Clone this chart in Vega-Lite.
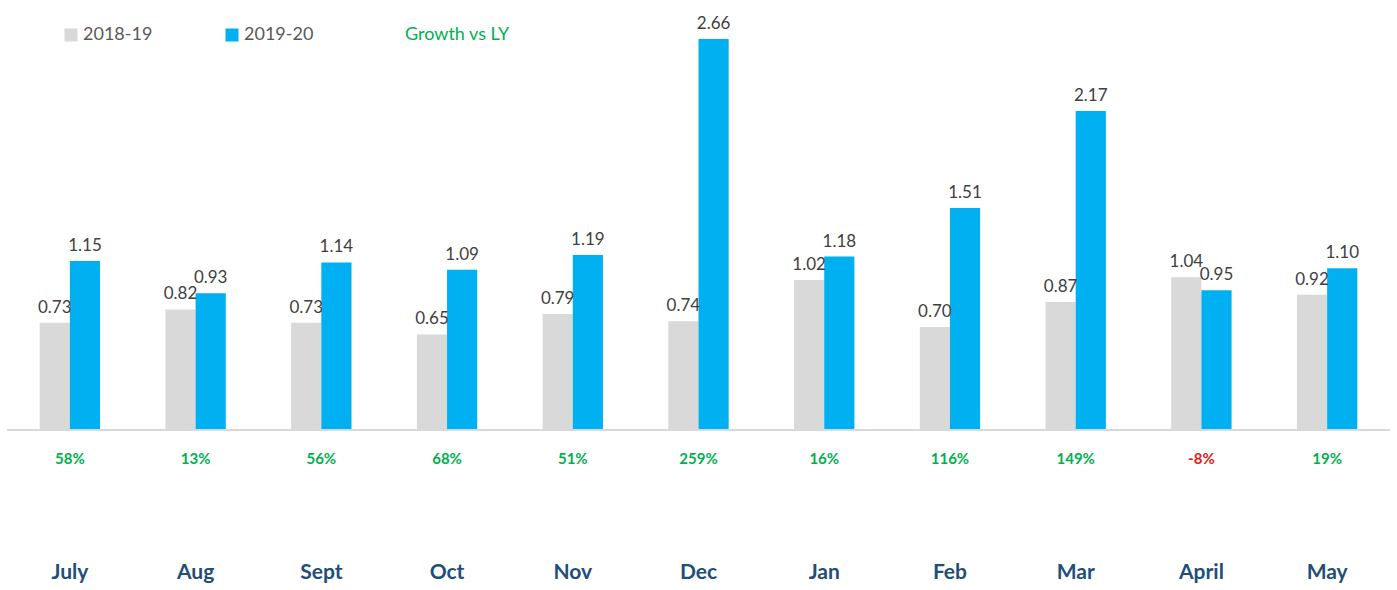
{
  "$schema": "https://vega.github.io/schema/vega-lite/v6.json",
  "width": 1383,
  "height": 545,
  "autosize": "none",
  "padding": {"left": 7, "top": 0, "right": 7, "bottom": 45},
  "background": "white",
  "config": {"view": {"stroke": null}, "font": "Lato"},
  "datasets": {
    "bars": [
      {"month": "July", "series": "2018-19", "value": 0.73},
      {"month": "July", "series": "2019-20", "value": 1.15},
      {"month": "Aug", "series": "2018-19", "value": 0.82},
      {"month": "Aug", "series": "2019-20", "value": 0.93},
      {"month": "Sept", "series": "2018-19", "value": 0.73},
      {"month": "Sept", "series": "2019-20", "value": 1.14},
      {"month": "Oct", "series": "2018-19", "value": 0.65},
      {"month": "Oct", "series": "2019-20", "value": 1.09},
      {"month": "Nov", "series": "2018-19", "value": 0.79},
      {"month": "Nov", "series": "2019-20", "value": 1.19},
      {"month": "Dec", "series": "2018-19", "value": 0.74},
      {"month": "Dec", "series": "2019-20", "value": 2.66},
      {"month": "Jan", "series": "2018-19", "value": 1.02},
      {"month": "Jan", "series": "2019-20", "value": 1.18},
      {"month": "Feb", "series": "2018-19", "value": 0.70},
      {"month": "Feb", "series": "2019-20", "value": 1.51},
      {"month": "Mar", "series": "2018-19", "value": 0.87},
      {"month": "Mar", "series": "2019-20", "value": 2.17},
      {"month": "April", "series": "2018-19", "value": 1.04},
      {"month": "April", "series": "2019-20", "value": 0.95},
      {"month": "May", "series": "2018-19", "value": 0.92},
      {"month": "May", "series": "2019-20", "value": 1.10}
    ],
    "growth": [
      {"month": "July", "growth": 58, "label": "58%"},
      {"month": "Aug", "growth": 13, "label": "13%"},
      {"month": "Sept", "growth": 56, "label": "56%"},
      {"month": "Oct", "growth": 68, "label": "68%"},
      {"month": "Nov", "growth": 51, "label": "51%"},
      {"month": "Dec", "growth": 259, "label": "259%"},
      {"month": "Jan", "growth": 16, "label": "16%"},
      {"month": "Feb", "growth": 116, "label": "116%"},
      {"month": "Mar", "growth": 149, "label": "149%"},
      {"month": "April", "growth": -8, "label": "-8%"},
      {"month": "May", "growth": 19, "label": "19%"}
    ]
  },
  "encoding": {
    "x": {
      "field": "month",
      "type": "nominal",
      "sort": ["July", "Aug", "Sept", "Oct", "Nov", "Dec", "Jan", "Feb", "Mar", "April", "May"],
      "scale": {"paddingInner": 0.52, "paddingOuter": 0.26},
      "axis": {
        "title": null,
        "domain": false,
        "ticks": false,
        "labelAngle": 0,
        "labelPadding": 16,
        "labelFontSize": 21,
        "labelFontWeight": "bold",
        "labelColor": "#1F4E79",
        "labelFont": "Lato"
      }
    }
  },
  "layer": [
    {
      "data": {"name": "bars"},
      "mark": {"type": "bar"},
      "encoding": {
        "xOffset": {"field": "series", "type": "nominal", "sort": ["2018-19", "2019-20"]},
        "y": {
          "field": "value",
          "type": "quantitative",
          "scale": {"domain": [-0.782, 2.925], "nice": false, "zero": false},
          "axis": null
        },
        "color": {
          "field": "series",
          "type": "nominal",
          "scale": {
            "domain": ["2018-19", "2019-20", "Growth vs LY"],
            "range": ["#D9D9D9", "#00B0F0", "transparent"]
          },
          "legend": {
            "title": null,
            "orient": "none",
            "legendX": 55,
            "legendY": 26,
            "direction": "horizontal",
            "padding": 0,
            "symbolType": "square",
            "symbolSize": 169,
            "symbolStrokeWidth": 0,
            "labelFontSize": 18,
            "labelFont": "Lato",
            "labelColor": "#595959",
            "labelOffset": 3,
            "columnPadding": 70,
            "encode": {
              "labels": {
                "update": {
                  "fill": {"signal": "datum.label === 'Growth vs LY' ? '#00B050' : '#595959'"}
                }
              }
            }
          }
        }
      }
    },
    {
      "data": {"name": "bars"},
      "mark": {"type": "text", "baseline": "bottom", "dy": -6, "fontSize": 17, "color": "#404040", "font": "Lato"},
      "encoding": {
        "xOffset": {"field": "series", "type": "nominal", "sort": ["2018-19", "2019-20"]},
        "y": {"field": "value", "type": "quantitative"},
        "text": {"field": "value", "type": "quantitative", "format": ".2f"}
      }
    },
    {
      "data": {"name": "bars"},
      "mark": {"type": "rule", "color": "#D9D9D9", "strokeWidth": 2},
      "encoding": {"y": {"datum": 0}, "x": null}
    },
    {
      "data": {"name": "growth"},
      "mark": {"type": "text", "baseline": "middle", "fontSize": 15, "fontWeight": "bold", "font": "Lato"},
      "encoding": {
        "y": {"datum": -0.2},
        "text": {"field": "label"},
        "color": {
          "condition": {"test": "datum.growth < 0", "value": "#E0201C"},
          "value": "#00B050"
        }
      }
    }
  ]
}
